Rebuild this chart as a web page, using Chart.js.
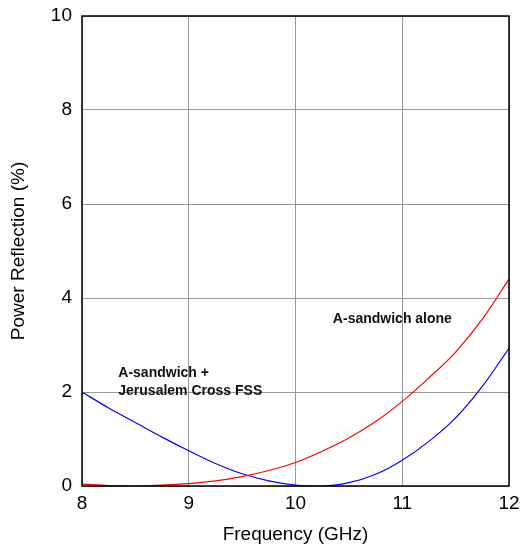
<!DOCTYPE html>
<html>
<head>
<meta charset="utf-8">
<script src="https://cdn.jsdelivr.net/npm/chart.js@4"></script>
<style>
  html, body { margin: 0; padding: 0; background: #fff; }
  #wrap { width: 523px; height: 546px; }
</style>
</head>
<body>
<div id="wrap"><canvas id="chart" width="523" height="546"></canvas></div>
<script>
// Frequency samples (GHz)
const freqs = [8, 8.25, 8.5, 8.75, 9, 9.25, 9.5, 9.75, 10, 10.25, 10.5, 10.75, 11, 11.25, 11.5, 11.75, 12];
// A-sandwich alone (red)
const aloneVals = [0.04, 0.01, 0.0, 0.02, 0.05, 0.11, 0.2, 0.33, 0.5, 0.74, 1.02, 1.37, 1.8, 2.3, 2.85, 3.55, 4.4];
// A-sandwich + Jerusalem Cross FSS (blue)
const fssVals = [2.0, 1.66, 1.35, 1.04, 0.75, 0.48, 0.26, 0.11, 0.02, 0.0, 0.07, 0.25, 0.55, 0.95, 1.45, 2.12, 2.93];

const xTicks = [8, 9, 10, 11, 12];
const yTicks = [0, 2, 4, 6, 8, 10];

// text labels placed in data coordinates
const notes = [
  { text: 'A-sandwich alone', x: 10.35, y: 3.56 },
  { text: 'A-sandwich +', x: 8.34, y: 2.4 },
  { text: 'Jerusalem Cross FSS', x: 8.34, y: 2.02 }
];

const toPoints = (xs, ys) => xs.map((x, i) => ({ x: x, y: ys[i] }));

// black frame around plot + annotation text
const framePlugin = {
  id: 'frame',
  afterDraw(chart) {
    const { ctx, chartArea: a, scales } = chart;
    ctx.save();
    ctx.strokeStyle = '#000';
    ctx.lineWidth = 1.5;
    ctx.strokeRect(a.left, a.top, a.right - a.left, a.bottom - a.top);
    ctx.fillStyle = '#111';
    ctx.font = 'bold 14px "Liberation Sans", Arial, sans-serif';
    ctx.textBaseline = 'middle';
    ctx.textAlign = 'left';
    notes.forEach(n => {
      ctx.fillText(n.text, scales.x.getPixelForValue(n.x), scales.y.getPixelForValue(n.y));
    });
    ctx.restore();
  }
};

const font = { family: '"Liberation Sans", Arial, sans-serif', size: 19 };

new Chart(document.getElementById('chart'), {
  type: 'line',
  data: {
    datasets: [
      {
        label: 'A-sandwich alone',
        data: toPoints(freqs, aloneVals),
        borderColor: '#ff0000',
        borderWidth: 1.2,
        pointRadius: 0,
        cubicInterpolationMode: 'monotone'
      },
      {
        label: 'A-sandwich + Jerusalem Cross FSS',
        data: toPoints(freqs, fssVals),
        borderColor: '#0000ff',
        borderWidth: 1.2,
        pointRadius: 0,
        cubicInterpolationMode: 'monotone'
      }
    ]
  },
  options: {
    responsive: false,
    animation: false,
    layout: { padding: { left: 0, top: 16, right: 14, bottom: 0 } },
    plugins: {
      legend: { display: false },
      tooltip: { enabled: false }
    },
    scales: {
      x: {
        type: 'linear',
        min: 8,
        max: 12,
        afterBuildTicks: s => { s.ticks = xTicks.map(v => ({ value: v })); },
        afterFit: s => { s.height = 60; s.paddingLeft = 0; s.paddingRight = 0; },
        grid: { color: '#999', lineWidth: 1, drawTicks: false },
        border: { display: false },
        ticks: { color: '#000', font: font, padding: 6, maxRotation: 0 },
        title: {
          display: true,
          text: 'Frequency (GHz)',
          color: '#000',
          font: { family: font.family, size: 19 },
          padding: { top: 6, bottom: 0 }
        }
      },
      y: {
        type: 'linear',
        min: 0,
        max: 10,
        afterBuildTicks: s => { s.ticks = yTicks.map(v => ({ value: v })); },
        afterFit: s => { s.width = 82; s.paddingTop = 0; s.paddingBottom = 0; },
        grid: { color: '#999', lineWidth: 1, drawTicks: false },
        border: { display: false },
        ticks: { color: '#000', font: font, padding: 10 },
        title: {
          display: true,
          text: 'Power Reflection (%)',
          color: '#000',
          font: { family: font.family, size: 19 },
          padding: { top: 7, bottom: 8 }
        }
      }
    }
  },
  plugins: [framePlugin]
});
</script>
</body>
</html>
